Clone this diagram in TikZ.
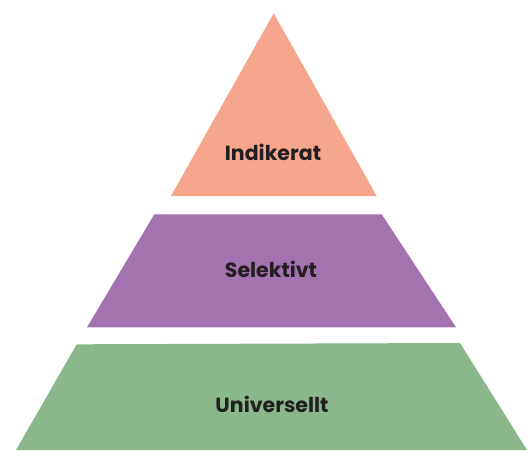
\documentclass[tikz,border=0pt]{standalone}
\usepackage{fontspec}
\setmainfont{Poppins}

\definecolor{indikeratcol}{HTML}{F6A68C}
\definecolor{selektivtcol}{HTML}{A273AF}
\definecolor{universelltcol}{HTML}{8AB78C}
\definecolor{labelcol}{HTML}{231F20}

\begin{document}
\begin{tikzpicture}
  [
    x=1pt, y=-1pt,
    level/.style={font=\bfseries\fontsize{20.5}{20.5}\selectfont, text=labelcol, inner sep=0pt},
  ]
  \useasboundingbox (0,0) rectangle (527,450);

  % levels
  \fill [indikeratcol] (273.7,13.3) -- (376.7,196) -- (171,196) -- cycle;
  \fill [selektivtcol] (154.3,214.3) -- (381.7,214.3) -- (456,327.3) -- (87,327.3) -- cycle;
  \fill [universelltcol] (76.7,344.3) -- (460,343) -- (527,450) -- (16,450) -- cycle;

  % labels
  \node [level] (indikerat) at (273,152) {Indikerat};
  \node [level] (selektivt) at (271,269) {Selektivt};
  \node [level] (universellt) at (272,404) {Universellt};
\end{tikzpicture}
\end{document}
